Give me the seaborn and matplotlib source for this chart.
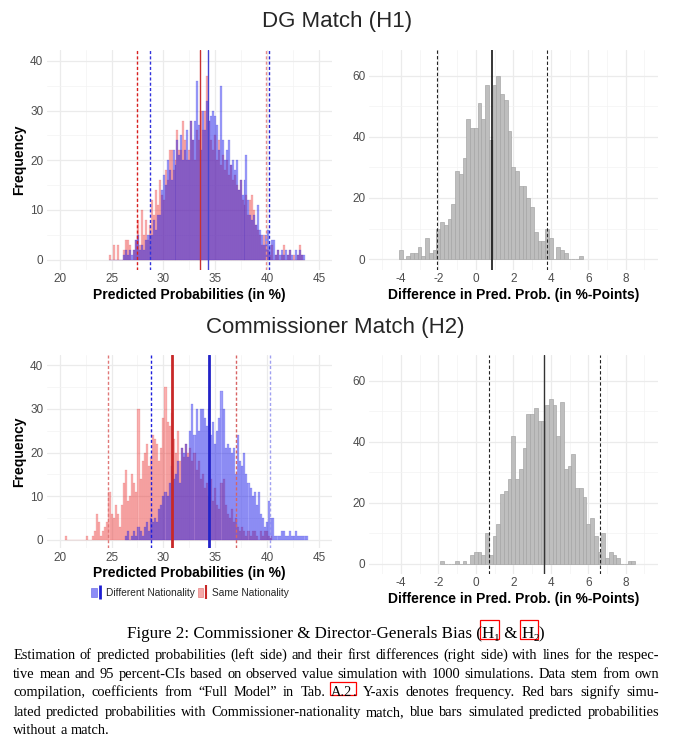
import numpy as np
import pandas as pd
import matplotlib
matplotlib.use("Agg")
import matplotlib.pyplot as plt
import seaborn as sns
from matplotlib.ticker import FixedLocator
from matplotlib.patches import Patch, Rectangle
from matplotlib.lines import Line2D
from matplotlib.legend_handler import HandlerTuple
from matplotlib.transforms import IdentityTransform

# ---------------- data ----------------
# H1 (DG match): predicted probabilities (in %), bins of width 0.19 from 24.8
h1_bin_start, h1_bin_width = 24.8, 0.19
h1_same = [1, 0, 3, 0, 3, 0, 0, 2, 4, 4, 3, 0, 2, 4, 8, 3, 10, 5, 8, 4,
           7, 12, 9, 14, 11, 16, 13, 12, 18, 16, 22, 22, 18, 20, 26, 22, 22, 28, 24, 20,
           22, 28, 24, 20, 26, 24, 30, 26, 30, 37, 28, 24, 22, 25, 20, 24, 19, 21, 18, 20,
           17, 19, 16, 17, 15, 14, 16, 12, 11, 13, 9, 12, 13, 10, 7, 6, 5, 3, 5, 3,
           2, 1, 3, 0, 1, 2, 0, 1, 3, 0, 1, 2, 0, 1, 0, 1, 3, 1, 0]
h1_diff = [0, 0, 0, 0, 0, 0, 0, 1, 2, 1, 2, 1, 2, 4, 5, 2, 3, 2, 4, 5,
           5, 5, 8, 6, 9, 9, 14, 17, 15, 20, 18, 16, 22, 19, 24, 21, 25, 20, 22, 26,
           20, 28, 24, 28, 36, 27, 22, 30, 26, 32, 28, 29, 30, 29, 27, 22, 35, 24, 20, 22,
           24, 19, 20, 18, 20, 14, 16, 13, 16, 21, 12, 9, 8, 9, 7, 11, 6, 5, 3, 5,
           6, 3, 4, 4, 1, 2, 1, 2, 1, 2, 1, 2, 1, 0, 2, 1, 2, 1, 1]
h1_same_mean, h1_same_ci = 33.5, (27.5, 39.85)
h1_diff_mean, h1_diff_ci = 34.3, (28.7, 40.2)

# H1 first differences (in %-points), bins of width 0.2 from -4.1
h1_fd_start, h1_fd_width = -4.1, 0.2
h1_fd = [3, 0, 1, 2, 2, 4, 1, 7, 2, 3, 10, 12, 11, 13, 18, 29, 28, 33, 46, 43,
         43, 51, 46, 57, 39, 57, 60, 54, 52, 42, 30, 29, 24, 24, 20, 17, 9, 6, 6, 10,
         7, 0, 4, 3, 2, 0, 0, 0, 1]
h1_fd_mean, h1_fd_ci = 0.85, (-2.08, 3.79)

# H2 (Commissioner match): predicted probabilities (in %)
h2_same_start, h2_same_width = 20.5, 0.2
h2_same = [1, 0, 0, 0, 0, 0, 0, 0, 0, 0, 1, 0, 0, 1, 2, 6, 4, 1, 2, 3,
           4, 11, 6, 5, 8, 6, 3, 8, 13, 16, 9, 10, 15, 13, 11, 30, 14, 18, 20, 22,
           17, 19, 24, 23, 22, 18, 21, 28, 35, 27, 26, 29, 23, 20, 25, 18, 21, 19, 22, 20,
           21, 18, 20, 16, 18, 14, 15, 12, 13, 10, 14, 9, 12, 8, 7, 13, 14, 8, 6, 5,
           7, 4, 5, 3, 2, 3, 2, 1, 2, 1, 2, 2, 1, 0, 2, 1, 2, 2, 1, 1]
h2_diff_start, h2_diff_width = 26.3, 0.2
h2_diff = [1, 2, 0, 1, 2, 1, 3, 2, 1, 3, 4, 2, 5, 4, 5, 4, 7, 8, 10, 11,
           10, 13, 17, 14, 15, 18, 13, 21, 20, 22, 19, 25, 31, 24, 30, 25, 30, 30, 28, 26,
           30, 24, 27, 22, 25, 28, 34, 30, 21, 22, 21, 20, 21, 15, 24, 18, 17, 20, 15, 13,
           12, 10, 11, 8, 11, 6, 5, 3, 4, 9, 5, 5, 1, 1, 1, 2, 2, 1, 1, 2,
           1, 1, 2, 1, 1, 1, 1, 1]
h2_same_mean, h2_same_ci = 30.8, (24.63, 37.0)
h2_diff_mean, h2_diff_ci = 34.4, (28.82, 40.29)

# H2 first differences (in %-points), bins of width 0.2 from -1.9
h2_fd_start, h2_fd_width = -1.9, 0.2
h2_fd = [1, 0, 0, 0, 1, 0, 1, 0, 3, 4, 4, 3, 10, 3, 9, 13, 23, 24, 28, 42,
         28, 31, 38, 49, 49, 51, 47, 47, 52, 54, 52, 42, 53, 31, 32, 36, 25, 25, 22, 13,
         15, 9, 4, 10, 2, 4, 3, 2, 0, 0, 1, 1]
h2_fd_mean, h2_fd_ci = 3.66, (0.71, 6.65)

titles = ["DG Match (H1)", "Commissioner Match (H2)"]
xlab_left = "Predicted Probabilities (in %)"
xlab_right = "Difference in Pred. Prob. (in %-Points)"
ylab = "Frequency"
legend_labels = ["Different Nationality", "Same Nationality"]
caption_title = ["Figure 2: Commissioner & Director-Generals Bias (", "H", "1", " & ", "H", "2", ")"]
caption_lines = [
    "Estimation of predicted probabilities (left side) and their first differences (right side) with lines for the respec-",
    "tive mean and 95 percent-CIs based on observed value simulation with 1000 simulations. Data stem from own",
    "compilation, coefficients from \u201cFull Model\u201d in Tab. A.2. Y-axis denotes frequency. Red bars signify simu-",
    "lated predicted probabilities with Commissioner-nationality match, blue bars simulated predicted probabilities",
    "without a match.",
]


def hist_frame(start, width, counts):
    counts = np.asarray(counts, dtype=float)
    edges = start + width * np.arange(len(counts) + 1)
    centers = (edges[:-1] + edges[1:]) / 2
    return pd.DataFrame({"x": centers, "n": counts}), [float(v) for v in edges]


# ---------------- style ----------------
sns.set_theme(style="white")
plt.rcParams["font.family"] = ["Liberation Sans", "DejaVu Sans"]
SERIF = ["Liberation Serif", "DejaVu Serif"]

W, H = 678, 738
fig = plt.figure(figsize=(W / 100, H / 100), dpi=100)


def box(l, t, r, b):
    return [l / W, 1 - b / H, (r - l) / W, (b - t) / H]


ax_tl = fig.add_axes(box(46.7, 50, 332, 270))
ax_tr = fig.add_axes(box(369, 50, 657.6, 270))
ax_bl = fig.add_axes(box(46.7, 355, 332, 548.3))
ax_br = fig.add_axes(box(369, 355, 657.6, 574))

RED_FILL = (0.95, 0.1, 0.1)
BLUE_FILL = (0.05, 0.05, 0.95)
RED_EDGE = (0.85, 0.25, 0.25, 0.35)
BLUE_EDGE = (0.2, 0.2, 0.85, 0.4)
RED_ALPHA, BLUE_ALPHA = 0.34, 0.40
TICK_C = "#4D4D4D"


def style_axes(ax, xlim, ylim, xmaj, xmin, ymaj, ymin, xlabel, ylabel=None):
    ax.set_xlim(*xlim)
    ax.set_ylim(*ylim)
    ax.xaxis.set_major_locator(FixedLocator(xmaj))
    ax.xaxis.set_minor_locator(FixedLocator(xmin))
    ax.yaxis.set_major_locator(FixedLocator(ymaj))
    ax.yaxis.set_minor_locator(FixedLocator(ymin))
    ax.set_xticklabels([f"{v:g}" for v in xmaj])
    ax.set_yticklabels([f"{v:g}" for v in ymaj])
    ax.grid(True, which="major", color="#EBEBEB", lw=0.9)
    ax.grid(True, which="minor", color="#F3F3F3", lw=0.5)
    ax.set_axisbelow(True)
    for s in ax.spines.values():
        s.set_visible(False)
    ax.tick_params(which="both", length=0, labelsize=8.5, labelcolor=TICK_C, pad=2.5)
    ax.set_xlabel(xlabel, fontsize=10, fontweight="bold", color="black", labelpad=1.5)
    if ylabel:
        ax.set_ylabel(ylabel, fontsize=10, fontweight="bold", color="black", labelpad=3)
    else:
        ax.set_ylabel("")
    ax.set_facecolor("white")


def vline(ax, x, color, lw, ls="-"):
    ax.axvline(x, color=color, lw=lw, ls=ls, zorder=5)


DASH = (0, (2.2, 1.6))

# ---- top-left ----
df, e = hist_frame(h1_bin_start, h1_bin_width, h1_same)
sns.histplot(data=df, x="x", weights="n", bins=e, ax=ax_tl, color=RED_FILL, alpha=RED_ALPHA,
             edgecolor=RED_EDGE, linewidth=0.3)
df, e = hist_frame(h1_bin_start, h1_bin_width, h1_diff)
sns.histplot(data=df, x="x", weights="n", bins=e, ax=ax_tl, color=BLUE_FILL, alpha=BLUE_ALPHA,
             edgecolor=BLUE_EDGE, linewidth=0.3)
vline(ax_tl, h1_same_mean, "#C83232", 1.0)
vline(ax_tl, h1_diff_mean, "#4646D2", 1.0)
vline(ax_tl, h1_same_ci[0], "#D81E1E", 1.0, DASH)
vline(ax_tl, h1_same_ci[1], "#E88C8C", 1.0, DASH)
vline(ax_tl, h1_diff_ci[0], "#3232DC", 1.0, DASH)
vline(ax_tl, h1_diff_ci[1], "#2828D2", 1.0, DASH)
style_axes(ax_tl, (18.75, 46.25), (-2.1, 42.2), [20, 25, 30, 35, 40, 45],
           [22.5, 27.5, 32.5, 37.5, 42.5], [0, 10, 20, 30, 40], [5, 15, 25, 35],
           xlab_left, ylab)

# ---- top-right ----
df, e = hist_frame(h1_fd_start, h1_fd_width, h1_fd)
sns.histplot(data=df, x="x", weights="n", bins=e, ax=ax_tr, color="#BEBEBE", alpha=1.0,
             edgecolor="#A6A6A6", linewidth=0.5)
vline(ax_tr, h1_fd_mean, "black", 1.1)
vline(ax_tr, h1_fd_ci[0], "#222222", 0.8, (0, (3, 2)))
vline(ax_tr, h1_fd_ci[1], "#222222", 0.8, (0, (3, 2)))
style_axes(ax_tr, (-5.7, 9.7), (-3.6, 68.5), [-4, -2, 0, 2, 4, 6, 8],
           [-5, -3, -1, 1, 3, 5, 7, 9], [0, 20, 40, 60], [10, 30, 50], xlab_right)

# ---- bottom-left ----
df, e = hist_frame(h2_same_start, h2_same_width, h2_same)
sns.histplot(data=df, x="x", weights="n", bins=e, ax=ax_bl, color=RED_FILL, alpha=RED_ALPHA,
             edgecolor=RED_EDGE, linewidth=0.3)
df, e = hist_frame(h2_diff_start, h2_diff_width, h2_diff)
sns.histplot(data=df, x="x", weights="n", bins=e, ax=ax_bl, color=BLUE_FILL, alpha=BLUE_ALPHA,
             edgecolor=BLUE_EDGE, linewidth=0.3)
vline(ax_bl, h2_same_mean, "#C82828", 2.0)
vline(ax_bl, h2_diff_mean, "#2323C8", 2.0)
vline(ax_bl, h2_same_ci[0], "#E07878", 1.0, DASH)
vline(ax_bl, h2_same_ci[1], "#D86464", 1.0, DASH)
vline(ax_bl, h2_diff_ci[0], "#1E1EDC", 1.0, DASH)
vline(ax_bl, h2_diff_ci[1], "#A0A0F0", 1.0, DASH)
style_axes(ax_bl, (18.75, 46.25), (-1.9, 42.3), [20, 25, 30, 35, 40, 45],
           [22.5, 27.5, 32.5, 37.5, 42.5], [0, 10, 20, 30, 40], [5, 15, 25, 35],
           xlab_left, ylab)

# ---- bottom-right ----
df, e = hist_frame(h2_fd_start, h2_fd_width, h2_fd)
sns.histplot(data=df, x="x", weights="n", bins=e, ax=ax_br, color="#BEBEBE", alpha=1.0,
             edgecolor="#A6A6A6", linewidth=0.5)
vline(ax_br, h2_fd_mean, "#333333", 1.0)
vline(ax_br, h2_fd_ci[0], "#222222", 0.8, (0, (3, 2)))
vline(ax_br, h2_fd_ci[1], "#222222", 0.8, (0, (3, 2)))
style_axes(ax_br, (-5.7, 9.7), (-3.3, 68.5), [-4, -2, 0, 2, 4, 6, 8],
           [-5, -3, -1, 1, 3, 5, 7, 9], [0, 20, 40, 60], [10, 30, 50], xlab_right)

# ---- legend ----
handles = [
    (Patch(facecolor=(0.55, 0.55, 0.97), edgecolor=(0.45, 0.45, 0.9), lw=0.5),
     Line2D([], [], color="#1E1ED2", marker="|", ms=10, mew=2, ls="none")),
    (Patch(facecolor=(0.96, 0.66, 0.66), edgecolor=(0.9, 0.5, 0.5), lw=0.5),
     Line2D([], [], color="#C82828", marker="|", ms=10, mew=1.5, ls="none")),
]
fig.legend(handles, legend_labels, loc="center", bbox_to_anchor=(190 / W, 1 - 593 / H),
           ncol=2, frameon=False, fontsize=7.3, handlelength=1.1, handleheight=1.0,
           handletextpad=0.3, columnspacing=0.3,
           handler_map={tuple: HandlerTuple(ndivide=None, pad=0)})

# ---- titles ----
fig.text(337.5 / W, 1 - 22 / H, titles[0], ha="center", va="center", fontsize=16)
fig.text(335.5 / W, 1 - 327 / H, titles[1], ha="center", va="center", fontsize=16)

# ---- caption (justified serif text, placed in pixel coordinates) ----
fig.canvas.draw()
rend = fig.canvas.get_renderer()
PIX = IdentityTransform()


def measure(s, size):
    t = fig.text(0, 0, s, fontsize=size, family=SERIF)
    w = t.get_window_extent(rend).width
    t.remove()
    return w


def put(xpx, ypx, s, size):
    return fig.text(xpx, float(H - ypx), s, fontsize=size, family=SERIF,
                    ha="left", va="baseline", color="black", transform=PIX)


def red_box(l, t, r, b):
    fig.add_artist(Rectangle((l / W, 1 - b / H), (r - l) / W, (b - t) / H,
                             transform=fig.transFigure, fill=False, ec="red", lw=0.9))


# title line
base = 10.0
sub_scale = 0.65
title_left, title_right = 126.7, 544.0
tw = sum(measure(p, base * (sub_scale if p in ("1", "2") else 1)) for p in caption_title)
tsize = base * (title_right - title_left) / tw
x = title_left
bl = 638
for p in caption_title:
    is_sub = p in ("1", "2")
    sz = tsize * (sub_scale if is_sub else 1)
    w = measure(p, sz)
    if p == "H":
        red_box(x - 1.5, bl - 18.0, x + w + 5, bl + 1.3)
    put(x, bl + (3 if is_sub else 0), p, sz)
    x += w

# body lines (word by word, justified)
left, right = 13.3, 659.0
target = right - left
nat = [measure(l, base) for l in caption_lines[:4]]
bsize = base * target / max(nat) * 0.985
baselines = [659, 678, 696, 716, 734]
space_w = measure("a a", bsize) - measure("aa", bsize)
for i, line in enumerate(caption_lines):
    words = line.split(" ")
    widths = [measure(wd, bsize) for wd in words]
    if i < 4:
        gap = (target - sum(widths)) / (len(words) - 1)
    else:
        gap = space_w
    x = left
    for wd, w in zip(words, widths):
        if wd == "A.2.":
            w1 = measure("A.2", bsize)
            red_box(x - 1.5, baselines[i] - 14.3, x + w1 + 3, baselines[i] - 1)
            put(x, baselines[i], "A.2", bsize)
            put(x + w1, baselines[i], ".", bsize)
        else:
            put(x, baselines[i], wd, bsize)
        x += w + gap

fig.savefig("out.png", dpi=100)
